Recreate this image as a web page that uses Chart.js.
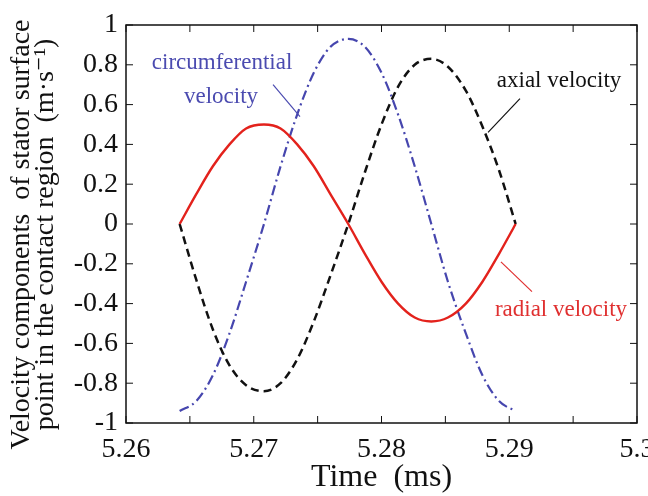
<!DOCTYPE html>
<html lang="en">
<head>
    <meta charset="UTF-8">
    <title>Velocity components</title>
    <script src="https://cdn.jsdelivr.net/npm/chart.js"></script>
    <style>
        html, body { margin: 0; padding: 0; background: #fff; }
        #wrap { width: 648px; height: 496px; }
    </style>
</head>
<body>
    <div id="wrap"><canvas id="chart" width="648" height="496"></canvas></div>

    <script>
    // time samples (ms)
    const timeMs = [5.2642, 5.2655, 5.2668, 5.2681, 5.2694, 5.2708, 5.2721, 5.2734, 5.2747, 5.2760, 5.2774,
                    5.2787, 5.2800, 5.2813, 5.2826, 5.2839, 5.2852, 5.2866, 5.2879, 5.2892, 5.2905];

    const radialVel = [0, 0.15, 0.29, 0.40, 0.48, 0.50, 0.48, 0.40, 0.29, 0.15, 0,
                       -0.15, -0.29, -0.40, -0.47, -0.49, -0.47, -0.40, -0.29, -0.15, 0];

    const axialVel = [0, -0.28, -0.53, -0.71, -0.81, -0.84, -0.80, -0.68, -0.49, -0.26, 0,
                      0.26, 0.50, 0.69, 0.80, 0.83, 0.79, 0.67, 0.49, 0.27, 0];

    const circumVel = [-0.94, -0.89, -0.76, -0.55, -0.29, 0, 0.29, 0.55, 0.76, 0.89, 0.93,
                       0.89, 0.76, 0.55, 0.29, 0, -0.29, -0.55, -0.76, -0.89, -0.94];

    const xTickLabels = ['5.26', '5.27', '5.28', '5.29', '5.3'];

    const serif = "'Liberation Serif', 'DejaVu Serif', serif";
    Chart.defaults.font.family = serif;
    Chart.defaults.color = '#111';

    // text labels with leader lines, in data coordinates
    const notes = [
        { text: ['circumferential', 'velocity'], x: [5.26752, 5.26744], y: [0.81, 0.64], color: '#4b4bb0',
          line: [5.27151, 0.70, 5.27362, 0.54] },
        { text: ['axial velocity'], x: [5.29390], y: [0.72], color: '#111',
          line: [5.29084, 0.63, 5.28834, 0.46] },
        { text: ['radial velocity'], x: [5.29405], y: [-0.43], color: '#e03030',
          line: [5.28935, -0.19, 5.29178, -0.34] }
    ];

    function pts(ys) {
        return timeMs.map((t, i) => ({ x: t, y: ys[i] }));
    }

    // box and inward ticks on all four sides
    const frame = {
        id: 'frame',
        afterDatasetsDraw(chart) {
            const { ctx, chartArea: a, scales } = chart;
            ctx.save();
            ctx.strokeStyle = '#111';
            ctx.lineWidth = 1.5;
            ctx.strokeRect(a.left, a.top, a.right - a.left, a.bottom - a.top);
            ctx.lineWidth = 1;
            scales.x.ticks.forEach(t => {
                const px = scales.x.getPixelForValue(t.value);
                ctx.beginPath();
                ctx.moveTo(px, a.bottom); ctx.lineTo(px, a.bottom - 7);
                ctx.moveTo(px, a.top); ctx.lineTo(px, a.top + 7);
                ctx.stroke();
            });
            scales.y.ticks.forEach(t => {
                const py = scales.y.getPixelForValue(t.value);
                ctx.beginPath();
                ctx.moveTo(a.left, py); ctx.lineTo(a.left + 7, py);
                ctx.moveTo(a.right, py); ctx.lineTo(a.right - 7, py);
                ctx.stroke();
            });
            ctx.restore();
        }
    };

    const annotate = {
        id: 'annotate',
        afterDatasetsDraw(chart) {
            const { ctx, scales } = chart;
            ctx.save();
            ctx.font = '23px ' + serif;
            ctx.textAlign = 'center';
            ctx.textBaseline = 'middle';
            notes.forEach(n => {
                ctx.fillStyle = n.color;
                n.text.forEach((s, i) => {
                    ctx.fillText(s, scales.x.getPixelForValue(n.x[i]), scales.y.getPixelForValue(n.y[i]));
                });
                ctx.strokeStyle = n.color;
                ctx.lineWidth = 1.2;
                ctx.beginPath();
                ctx.moveTo(scales.x.getPixelForValue(n.line[0]), scales.y.getPixelForValue(n.line[1]));
                ctx.lineTo(scales.x.getPixelForValue(n.line[2]), scales.y.getPixelForValue(n.line[3]));
                ctx.stroke();
            });
            ctx.restore();
        }
    };

    new Chart(document.getElementById('chart'), {
        type: 'line',
        data: {
            datasets: [
                { label: 'radial velocity', data: pts(radialVel), borderColor: '#e3221c', borderWidth: 2.4 },
                { label: 'axial velocity', data: pts(axialVel), borderColor: '#111', borderWidth: 2.5, borderDash: [8, 5] },
                { label: 'circumferential velocity', data: pts(circumVel), borderColor: '#4646ae', borderWidth: 2.2,
                  borderDash: [10, 4, 2, 4] }
            ]
        },
        options: {
            responsive: false,
            animation: false,
            layout: { padding: { top: 25, right: 11, left: 0, bottom: 0 } },
            elements: { point: { radius: 0 }, line: { cubicInterpolationMode: 'monotone', fill: false } },
            plugins: { legend: { display: false }, tooltip: { enabled: false } },
            scales: {
                x: {
                    type: 'linear', min: 5.26, max: 5.3,
                    afterFit: s => { s.height = 73; s.paddingLeft = 0; s.paddingRight = 0; },
                    afterBuildTicks: s => {
                        s.ticks = [];
                        for (let i = 0; i <= 8; i++) s.ticks.push({ value: 5.26 + i * 0.005 });
                    },
                    grid: { display: false, drawTicks: false },
                    border: { display: false },
                    ticks: {
                        padding: 10, color: '#111', maxRotation: 0, autoSkip: false,
                        font: { family: serif, size: 28 },
                        callback: (v, i) => (i % 2 === 0 ? xTickLabels[i / 2] : '')
                    },
                    title: { display: true, text: 'Time  (ms)', color: '#111', padding: { top: 0, bottom: 2 },
                             font: { family: serif, size: 32, lineHeight: 1.0 } }
                },
                y: {
                    min: -1, max: 1,
                    afterFit: s => { s.width = 126; s.paddingTop = 0; s.paddingBottom = 0; },
                    grid: { display: false, drawTicks: false },
                    border: { display: false },
                    ticks: {
                        stepSize: 0.2, padding: 8, color: '#111',
                        font: { family: serif, size: 28 },
                        callback: v => String(Math.round(v * 10) / 10)
                    },
                    title: {
                        display: true, color: '#111', padding: { top: 10, bottom: 0 },
                        text: ['Velocity components  of stator surface\u2002 ', 'point in the contact region  (m·s⁻¹)\u2002 '],
                        font: { family: serif, size: 28, lineHeight: 0.86 }
                    }
                }
            }
        },
        plugins: [frame, annotate]
    });
    </script>
</body>
</html>
